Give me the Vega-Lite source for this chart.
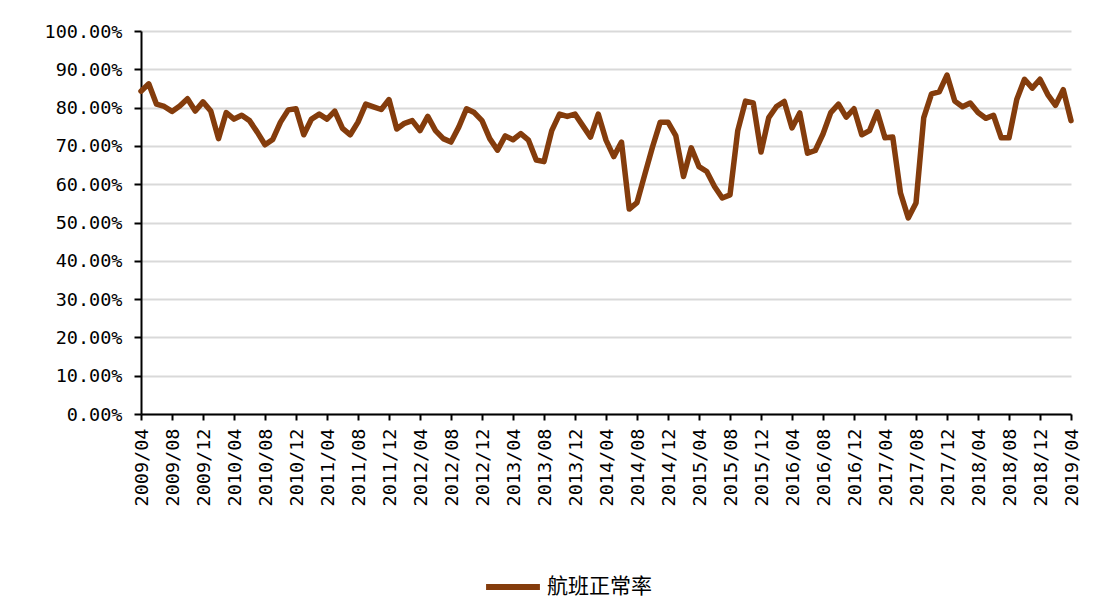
{
  "$schema": "https://vega.github.io/schema/vega-lite/v6.json",
  "width": 930,
  "height": 383,
  "padding": {"left": 44, "top": 22, "right": 30, "bottom": 10},
  "background": "white",
  "config": {
    "view": {"stroke": null},
    "axis": {"labelFont": "DejaVu Sans Mono", "labelFontSize": 18.5, "labelColor": "#000000"}
  },
  "data": {"values": [
    {"m": "2009/04", "v": 0.843}, {"m": "2009/05", "v": 0.862}, {"m": "2009/06", "v": 0.809}, {"m": "2009/07", "v": 0.803},
    {"m": "2009/08", "v": 0.790}, {"m": "2009/09", "v": 0.804}, {"m": "2009/10", "v": 0.823}, {"m": "2009/11", "v": 0.791},
    {"m": "2009/12", "v": 0.815}, {"m": "2010/01", "v": 0.791}, {"m": "2010/02", "v": 0.719}, {"m": "2010/03", "v": 0.787},
    {"m": "2010/04", "v": 0.770}, {"m": "2010/05", "v": 0.780}, {"m": "2010/06", "v": 0.766}, {"m": "2010/07", "v": 0.736},
    {"m": "2010/08", "v": 0.703}, {"m": "2010/09", "v": 0.717}, {"m": "2010/10", "v": 0.762}, {"m": "2010/11", "v": 0.794},
    {"m": "2010/12", "v": 0.797}, {"m": "2011/01", "v": 0.729}, {"m": "2011/02", "v": 0.770}, {"m": "2011/03", "v": 0.783},
    {"m": "2011/04", "v": 0.770}, {"m": "2011/05", "v": 0.791}, {"m": "2011/06", "v": 0.746}, {"m": "2011/07", "v": 0.729},
    {"m": "2011/08", "v": 0.762}, {"m": "2011/09", "v": 0.809}, {"m": "2011/10", "v": 0.802}, {"m": "2011/11", "v": 0.795},
    {"m": "2011/12", "v": 0.821}, {"m": "2012/01", "v": 0.744}, {"m": "2012/02", "v": 0.759}, {"m": "2012/03", "v": 0.766},
    {"m": "2012/04", "v": 0.740}, {"m": "2012/05", "v": 0.777}, {"m": "2012/06", "v": 0.740}, {"m": "2012/07", "v": 0.719},
    {"m": "2012/08", "v": 0.710}, {"m": "2012/09", "v": 0.749}, {"m": "2012/10", "v": 0.797}, {"m": "2012/11", "v": 0.787},
    {"m": "2012/12", "v": 0.766}, {"m": "2013/01", "v": 0.719}, {"m": "2013/02", "v": 0.689}, {"m": "2013/03", "v": 0.726},
    {"m": "2013/04", "v": 0.716}, {"m": "2013/05", "v": 0.732}, {"m": "2013/06", "v": 0.715}, {"m": "2013/07", "v": 0.663},
    {"m": "2013/08", "v": 0.659}, {"m": "2013/09", "v": 0.740}, {"m": "2013/10", "v": 0.783}, {"m": "2013/11", "v": 0.777},
    {"m": "2013/12", "v": 0.783}, {"m": "2014/01", "v": 0.753}, {"m": "2014/02", "v": 0.723}, {"m": "2014/03", "v": 0.783},
    {"m": "2014/04", "v": 0.715}, {"m": "2014/05", "v": 0.672}, {"m": "2014/06", "v": 0.710}, {"m": "2014/07", "v": 0.535},
    {"m": "2014/08", "v": 0.552}, {"m": "2014/09", "v": 0.625}, {"m": "2014/10", "v": 0.697}, {"m": "2014/11", "v": 0.762},
    {"m": "2014/12", "v": 0.762}, {"m": "2015/01", "v": 0.727}, {"m": "2015/02", "v": 0.620}, {"m": "2015/03", "v": 0.695},
    {"m": "2015/04", "v": 0.646}, {"m": "2015/05", "v": 0.633}, {"m": "2015/06", "v": 0.594}, {"m": "2015/07", "v": 0.564},
    {"m": "2015/08", "v": 0.572}, {"m": "2015/09", "v": 0.740}, {"m": "2015/10", "v": 0.817}, {"m": "2015/11", "v": 0.812},
    {"m": "2015/12", "v": 0.684}, {"m": "2016/01", "v": 0.774}, {"m": "2016/02", "v": 0.803}, {"m": "2016/03", "v": 0.816},
    {"m": "2016/04", "v": 0.747}, {"m": "2016/05", "v": 0.786}, {"m": "2016/06", "v": 0.681}, {"m": "2016/07", "v": 0.688},
    {"m": "2016/08", "v": 0.731}, {"m": "2016/09", "v": 0.787}, {"m": "2016/10", "v": 0.809}, {"m": "2016/11", "v": 0.775},
    {"m": "2016/12", "v": 0.797}, {"m": "2017/01", "v": 0.729}, {"m": "2017/02", "v": 0.740}, {"m": "2017/03", "v": 0.789},
    {"m": "2017/04", "v": 0.721}, {"m": "2017/05", "v": 0.723}, {"m": "2017/06", "v": 0.577}, {"m": "2017/07", "v": 0.512},
    {"m": "2017/08", "v": 0.551}, {"m": "2017/09", "v": 0.774}, {"m": "2017/10", "v": 0.836}, {"m": "2017/11", "v": 0.841},
    {"m": "2017/12", "v": 0.885}, {"m": "2018/01", "v": 0.817}, {"m": "2018/02", "v": 0.802}, {"m": "2018/03", "v": 0.812},
    {"m": "2018/04", "v": 0.787}, {"m": "2018/05", "v": 0.772}, {"m": "2018/06", "v": 0.780}, {"m": "2018/07", "v": 0.721},
    {"m": "2018/08", "v": 0.721}, {"m": "2018/09", "v": 0.821}, {"m": "2018/10", "v": 0.874}, {"m": "2018/11", "v": 0.851},
    {"m": "2018/12", "v": 0.874}, {"m": "2019/01", "v": 0.834}, {"m": "2019/02", "v": 0.806}, {"m": "2019/03", "v": 0.847},
    {"m": "2019/04", "v": 0.766}
  ]},
  "mark": {"type": "line", "strokeWidth": 5.5, "strokeJoin": "round", "strokeCap": "round"},
  "encoding": {
    "x": {
      "field": "m", "type": "ordinal", "sort": null,
      "scale": {"type": "point", "padding": 0},
      "axis": {
        "title": null, "labelAngle": -90, "labelPadding": 8, "tickSize": 6, "tickWidth": 2, "tickColor": "#000000",
        "domainColor": "#000000", "domainWidth": 2, "grid": false,
        "values": ["2009/04","2009/08","2009/12","2010/04","2010/08","2010/12","2011/04","2011/08","2011/12","2012/04","2012/08","2012/12","2013/04","2013/08","2013/12","2014/04","2014/08","2014/12","2015/04","2015/08","2015/12","2016/04","2016/08","2016/12","2017/04","2017/08","2017/12","2018/04","2018/08","2018/12","2019/04"]
      }
    },
    "y": {
      "field": "v", "type": "quantitative",
      "scale": {"domain": [0, 1], "nice": false},
      "axis": {
        "title": null, "format": ".2%", "values": [0, 0.1, 0.2, 0.3, 0.4, 0.5, 0.6, 0.7, 0.8, 0.9, 1.0],
        "tickSize": 7, "tickWidth": 2, "tickColor": "#000000", "labelPadding": 12,
        "domainColor": "#000000", "domainWidth": 2,
        "grid": true, "gridColor": "#d9d9d9", "gridWidth": 2
      }
    },
    "color": {
      "datum": "航班正常率", "type": "nominal",
      "scale": {"range": ["#843C0C"]},
      "legend": {
        "title": null, "orient": "none", "legendX": 342, "legendY": 526, "symbolType": "stroke", "symbolSize": 2900,
        "symbolStrokeWidth": 6, "labelFont": "Noto Sans CJK SC", "labelFontSize": 21, "labelColor": "#000000"
      }
    }
  }
}
